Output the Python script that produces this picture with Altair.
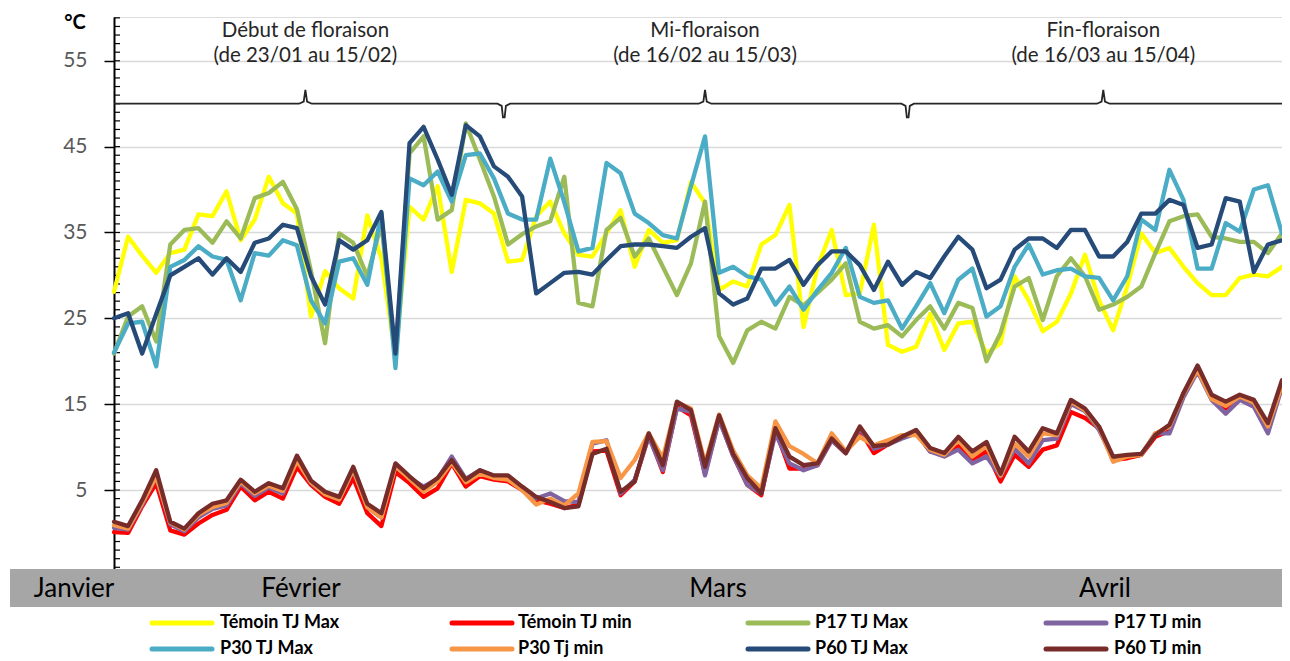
import altair as alt
import pandas as pd

# ---------------- data ----------------
days = list(range(84))  # 23/01 .. 15/04

temoin_max = [28.1, 34.5, 32.3, 30.3, 32.6, 33.0, 37.1, 36.9, 39.8, 34.1,
              36.5, 41.5, 38.4, 37.2, 25.2, 30.5, 28.5, 27.3, 37.0, 32.0,
              20.5, 38.0, 36.5, 40.4, 30.4, 38.8, 38.4, 37.2, 31.6, 31.8,
              36.9, 38.6, 34.9, 32.4, 32.2, 34.9, 37.6, 31.0, 35.3, 33.8,
              34.1, 40.9, 38.4, 28.3, 29.3, 28.7, 33.6, 34.7, 38.2, 24.0,
              31.0, 35.3, 27.7, 27.9, 35.9, 21.9, 21.1, 21.7, 25.5, 21.3,
              24.4, 24.6, 20.9, 22.1, 29.9, 27.1, 23.5, 24.6, 27.9, 32.4,
              27.1, 23.6, 28.7, 34.9, 32.6, 33.2, 31.0, 29.1, 27.7, 27.7,
              29.7, 30.1, 29.9, 31.0]
temoin_min = [0.1, 0.0, 3.1, 5.8, 0.3, -0.2, 1.1, 2.1, 2.7, 5.4,
              3.8, 4.8, 4.0, 7.7, 5.6, 4.2, 3.4, 6.4, 2.3, 0.8,
              7.1, 5.8, 4.2, 5.2, 8.1, 5.4, 6.6, 6.2, 6.0, 5.0,
              3.8, 3.4, 2.9, 3.3, 9.5, 9.6, 4.4, 6.0, 11.4, 7.1,
              14.7, 13.7, 6.9, 13.3, 9.0, 5.6, 4.4, 12.0, 7.5, 7.5,
              7.9, 10.8, 9.3, 12.0, 9.3, 10.3, 11.2, 11.8, 9.5, 9.1,
              10.1, 8.5, 9.5, 6.0, 9.1, 7.7, 9.7, 10.2, 14.1, 13.4,
              12.2, 8.5, 8.7, 9.1, 11.2, 11.9, 16.3, 19.0, 15.9, 14.5,
              15.7, 15.3, 12.2, 17.6]
p17_max = [20.9, 25.2, 26.4, 22.3, 33.6, 35.3, 35.5, 33.8, 36.3, 34.3,
           39.0, 39.6, 40.9, 37.7, 30.5, 22.1, 34.9, 33.8, 29.9, 36.0,
           20.5, 44.2, 46.2, 36.5, 37.6, 47.7, 43.5, 39.2, 33.6, 34.8,
           35.7, 36.3, 41.5, 26.8, 26.4, 35.3, 36.7, 32.2, 34.3, 31.0,
           27.7, 31.4, 38.6, 22.9, 19.8, 23.6, 24.6, 23.8, 27.5, 26.5,
           28.0, 29.5, 31.4, 24.6, 23.8, 24.2, 22.9, 24.8, 26.4, 23.8,
           26.8, 26.2, 20.0, 23.3, 28.7, 29.7, 24.8, 29.9, 32.0, 29.9,
           26.0, 26.6, 27.5, 28.7, 32.6, 36.3, 36.9, 37.1, 34.5, 34.3,
           33.9, 33.9, 32.6, 34.9]
p17_min = [0.6, 0.4, 3.3, 6.5, 1.0, 0.2, 1.8, 2.8, 3.2, 5.8,
           4.3, 5.3, 4.6, 8.5, 5.8, 4.5, 3.9, 7.3, 3.0, 1.8,
           7.8, 6.4, 5.4, 6.3, 8.9, 6.3, 7.3, 6.6, 6.6, 5.2,
           4.0, 4.6, 3.7, 3.6, 10.4, 10.8, 4.6, 6.2, 11.2, 7.3,
           14.5, 14.1, 6.7, 13.2, 9.0, 5.6, 4.6, 11.6, 8.1, 7.3,
           7.9, 10.8, 9.3, 12.2, 9.8, 10.3, 11.0, 11.6, 9.5, 8.9,
           9.7, 8.1, 8.9, 6.6, 9.8, 8.1, 10.8, 11.0, 15.0, 14.2,
           12.0, 8.7, 9.0, 9.1, 11.6, 11.6, 15.8, 18.8, 15.5, 13.9,
           15.5, 14.7, 11.6, 17.0]
p30_max = [21.0, 24.4, 24.6, 19.4, 31.0, 31.8, 33.4, 32.2, 31.8, 27.1,
           32.6, 32.3, 34.1, 33.5, 27.1, 24.4, 31.6, 32.0, 28.9, 37.2,
           19.2, 41.3, 40.5, 42.1, 38.6, 44.0, 44.2, 41.3, 37.2, 36.5,
           36.5, 43.6, 38.5, 32.8, 33.2, 43.1, 41.9, 37.2, 36.1, 34.7,
           34.3, 40.4, 46.2, 30.3, 31.0, 29.9, 29.5, 26.6, 28.7, 26.0,
           28.3, 30.3, 33.2, 27.5, 26.8, 27.1, 23.8, 26.4, 29.1, 25.6,
           29.5, 30.8, 25.2, 26.4, 31.0, 33.6, 30.1, 30.6, 30.8, 29.9,
           29.7, 27.1, 29.9, 36.5, 35.3, 42.3, 38.8, 30.8, 30.8, 36.1,
           35.1, 40.0, 40.5, 34.9]
p30_min = [0.9, 0.5, 3.5, 6.6, 1.2, 0.4, 2.1, 3.0, 3.5, 6.0,
           4.6, 5.5, 4.9, 8.4, 5.9, 4.5, 3.9, 7.4, 3.0, 1.8,
           7.8, 6.3, 4.8, 6.0, 8.2, 5.9, 6.9, 6.4, 6.2, 5.0,
           3.3, 4.0, 3.2, 4.6, 10.6, 10.7, 6.4, 8.5, 11.6, 8.7,
           15.2, 14.5, 8.1, 13.8, 9.6, 6.7, 5.2, 13.0, 10.1, 9.2,
           8.1, 11.6, 9.5, 11.2, 10.2, 10.8, 11.4, 11.4, 9.7, 9.1,
           10.8, 8.9, 10.1, 6.7, 10.4, 8.9, 11.6, 11.4, 15.3, 14.3,
           12.3, 8.3, 8.9, 9.1, 11.6, 12.4, 16.2, 19.0, 15.6, 14.8,
           15.9, 15.2, 12.4, 17.2]
p60_max = [25.0, 25.6, 20.9, 25.5, 30.0, 31.0, 32.0, 30.1, 32.0, 30.4,
           33.8, 34.3, 35.9, 35.5, 29.9, 26.6, 34.1, 33.0, 34.1, 37.4,
           20.9, 45.4, 47.3, 43.5, 39.4, 47.5, 46.2, 42.7, 41.5, 39.2,
           27.9, 29.1, 30.3, 30.4, 30.1, 31.8, 33.4, 33.6, 33.6, 33.4,
           33.2, 34.5, 35.5, 27.9, 26.6, 27.3, 30.8, 30.8, 31.8, 28.9,
           31.2, 32.8, 32.8, 31.2, 28.3, 31.6, 28.9, 30.4, 29.7, 32.2,
           34.5, 33.0, 28.5, 29.5, 33.0, 34.3, 34.3, 33.2, 35.3, 35.3,
           32.2, 32.2, 33.9, 37.2, 37.2, 38.8, 38.2, 33.2, 33.6, 39.0,
           38.6, 30.4, 33.6, 34.1]
p60_min = [1.3, 0.8, 3.8, 7.3, 1.3, 0.5, 2.3, 3.4, 3.8, 6.2,
           4.8, 5.8, 5.2, 9.0, 6.1, 4.8, 4.2, 7.7, 3.4, 2.3,
           8.1, 6.6, 5.2, 6.4, 8.5, 6.2, 7.3, 6.7, 6.7, 5.4,
           4.2, 3.6, 2.9, 3.1, 9.2, 9.8, 4.8, 6.0, 11.6, 7.9,
           15.3, 14.3, 7.7, 13.7, 9.2, 6.4, 4.6, 12.2, 8.9, 7.9,
           8.1, 11.0, 9.3, 12.4, 10.1, 10.3, 11.2, 12.0, 9.9, 9.3,
           11.2, 9.5, 10.6, 6.9, 11.2, 9.5, 12.2, 11.6, 15.5, 14.5,
           12.4, 8.9, 9.1, 9.2, 11.4, 12.6, 16.3, 19.5, 16.1, 15.3,
           16.1, 15.5, 12.8, 17.8]

series_names = ["Témoin TJ Max", "Témoin TJ min", "P17 TJ Max", "P17 TJ min",
                "P30 TJ Max", "P30 Tj min", "P60 TJ Max", "P60 TJ min"]
series_values = [temoin_max, temoin_min, p17_max, p17_min,
                 p30_max, p30_min, p60_max, p60_min]
series_colors = ["#FFFF00", "#FF0000", "#9BBB59", "#8064A2",
                 "#4BACC6", "#F79646", "#264B79", "#772C2A"]

y_ticks = [5, 15, 25, 35, 45, 55]
minor_ticks = list(range(-4, 61))
months = ["Janvier", "Février", "Mars", "Avril"]

period_titles = ["Début de floraison", "Mi-floraison", "Fin-floraison"]
period_dates = ["(de 23/01 au 15/02)", "(de 16/02 au 15/03)", "(de 16/03 au 15/04)"]
brace_mids = [13.6, 42.0, 70.3]     # day index of brace tips
brace_joins = [27.7, 56.4]          # day index where braces meet
brace_level = 50.0

# ---------------- layout ----------------
W, H = 1168, 552
FONT = "Lato"

xscale = alt.Scale(domain=[0, 83], nice=False, zero=False)
yscale = alt.Scale(domain=[-4.2, 60.1], nice=False, zero=False)
yaxis = alt.Axis(values=y_ticks, grid=True, gridColor="#D9D9D9", gridWidth=1.5,
                 domainColor="black", domainWidth=2, tickColor="black",
                 tickWidth=1.5, tickSize=10, labelFont=FONT, labelFontSize=21,
                 labelColor="#595959", labelPadding=17, title=None)
X = alt.X("day:Q", scale=xscale, axis=None)
Y = alt.Y("value:Q", scale=yscale, axis=yaxis)

one = pd.DataFrame({"_": [0]})
layers = []

# minor ticks (inside the axis)
layers.append(
    alt.Chart(pd.DataFrame({"value": minor_ticks}))
    .mark_rule(color="black", strokeWidth=1.2)
    .encode(x=alt.value(0), x2=alt.value(6), y=Y)
)

# braces
pts = [(0, brace_level)]
events = sorted([(m, "mid") for m in brace_mids] + [(j, "join") for j in brace_joins])
for pos, kind in events:
    if kind == "mid":
        pts += [(pos - 0.45, brace_level), (pos - 0.12, brace_level + 0.25),
                (pos, brace_level + 1.6), (pos + 0.12, brace_level + 0.25),
                (pos + 0.45, brace_level)]
    else:
        pts += [(pos - 0.45, brace_level), (pos - 0.15, brace_level - 0.25),
                (pos - 0.06, brace_level - 1.6), (pos + 0.06, brace_level - 1.6),
                (pos + 0.15, brace_level - 0.25), (pos + 0.45, brace_level)]
pts.append((83, brace_level))
brace_df = pd.DataFrame({"day": [p[0] for p in pts], "value": [p[1] for p in pts],
                         "o": list(range(len(pts)))})
layers.append(
    alt.Chart(brace_df).mark_line(color="#262626", strokeWidth=1.8, clip=False)
    .encode(x=X, y=Y, order="o:Q")
)

# period annotations
ann = pd.DataFrame({"day": brace_mids * 2,
                    "value": [58.45] * 3 + [55.5] * 3,
                    "txt": period_titles + period_dates})
layers.append(
    alt.Chart(ann).mark_text(font=FONT, fontSize=20.5, color="#262626",
                             align="center", baseline="middle")
    .encode(x=X, y=Y, text="txt:N")
)

# data lines
for name, vals, col in zip(series_names, series_values, series_colors):
    df = pd.DataFrame({"day": days, "value": vals})
    layers.append(
        alt.Chart(df).mark_line(color=col, strokeWidth=4.3, strokeJoin="round",
                                strokeCap="round")
        .encode(x=X, y=Y)
    )

# degree label
layers.append(
    alt.Chart(one).mark_text(font=FONT, fontSize=20, fontWeight="bold",
                             color="black", align="center", baseline="middle")
    .encode(x=alt.value(-39), y=alt.value(6), text=alt.value("°C"))
)

# month band
layers.append(
    alt.Chart(one).mark_rect(color="#A6A6A6")
    .encode(x=alt.value(-104), x2=alt.value(W), y=alt.value(H), y2=alt.value(H + 38))
)
month_x = [-40, 187, 604, 991]
for m, mx in zip(months, month_x):
    layers.append(
        alt.Chart(one).mark_text(font=FONT, fontSize=26, color="black",
                                 align="center", baseline="middle")
        .encode(x=alt.value(mx), y=alt.value(H + 20), text=alt.value(m))
    )

# legend
sym_x = [38, 338, 634, 932]
lab_x = [106, 404, 701, 1000]
row_y = [606, 632]
for k, (name, col) in enumerate(zip(series_names, series_colors)):
    r, c = k // 4, k % 4
    layers.append(
        alt.Chart(one).mark_rule(color=col, strokeWidth=5, strokeCap="round")
        .encode(x=alt.value(sym_x[c]), x2=alt.value(sym_x[c] + 60),
                y=alt.value(row_y[r]))
    )
    layers.append(
        alt.Chart(one).mark_text(font=FONT, fontSize=18, fontWeight="bold",
                                 color="black", align="left", baseline="middle")
        .encode(x=alt.value(lab_x[c]), y=alt.value(row_y[r]), text=alt.value(name))
    )

chart = (
    alt.layer(*layers)
    .properties(width=W, height=H,
                autosize=alt.AutoSizeParams(type="none"),
                padding={"left": 106, "top": 9, "right": 0, "bottom": 92})
    .configure_view(stroke=None)
    .configure(background="white")
)

chart.save("out.html", embed_options={"renderer": "svg", "actions": False})
